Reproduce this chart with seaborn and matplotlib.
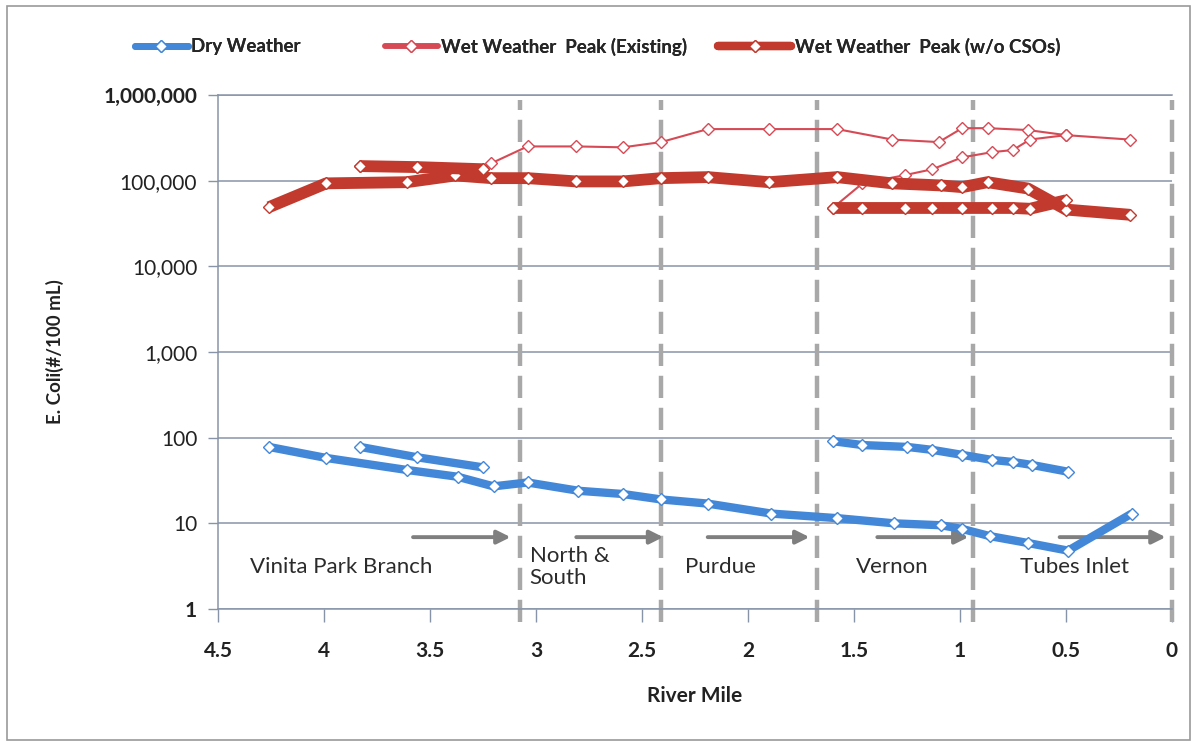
import numpy as np
import pandas as pd
import matplotlib
matplotlib.use("Agg")
import matplotlib.pyplot as plt
from matplotlib.patches import Rectangle
from matplotlib.lines import Line2D
import seaborn as sns

# ---------------- data ----------------
dry_main_x = [4.26, 3.99, 3.61, 3.37, 3.20, 3.04, 2.80, 2.59, 2.41, 2.19, 1.89, 1.58, 1.31, 1.09, 0.99, 0.86, 0.68, 0.49, 0.19]
dry_main_y = [78, 58, 42, 35, 27, 30, 24, 22, 19, 17, 13, 11.5, 10, 9.5, 8.6, 7.1, 5.9, 4.8, 13]
dry_vinita_x = [3.83, 3.56, 3.25]
dry_vinita_y = [78, 59, 45]
dry_vernon_x = [1.60, 1.46, 1.25, 1.13, 0.99, 0.85, 0.75, 0.66, 0.49]
dry_vernon_y = [91, 82, 78, 72, 63, 55, 52, 48, 40]

wet_exist_main_x = [3.83, 3.56, 3.25, 3.21, 3.04, 2.81, 2.59, 2.41, 2.19, 1.90, 1.58, 1.32, 1.10, 0.99, 0.87, 0.68, 0.50, 0.20]
wet_exist_main_y = [148000, 144000, 136000, 160000, 251000, 251000, 245000, 282000, 400000, 400000, 400000,
                    302000, 282000, 410000, 410000, 390000, 340000, 302000]
wet_exist_vernon_x = [1.60, 1.46, 1.26, 1.13, 0.99, 0.85, 0.75, 0.67, 0.50]
wet_exist_vernon_y = [48000, 93000, 116000, 136000, 187000, 215000, 228000, 302000, 340000]

wet_noCSO_main_x = [4.26, 3.99, 3.61, 3.38, 3.21, 3.04, 2.81, 2.59, 2.41, 2.19, 1.90, 1.58, 1.32, 1.09, 0.99, 0.87, 0.68, 0.50, 0.20]
wet_noCSO_main_y = [49000, 93000, 96000, 115000, 107000, 107000, 98000, 98000, 107000, 110000, 96000, 110000,
                    93000, 88000, 84000, 96000, 81000, 46000, 40000]
wet_noCSO_vinita_x = [3.83, 3.56, 3.25]
wet_noCSO_vinita_y = [148000, 144000, 136000]
wet_noCSO_vernon_x = [1.60, 1.46, 1.26, 1.13, 0.99, 0.85, 0.75, 0.67, 0.50]
wet_noCSO_vernon_y = [48000, 48000, 48000, 48000, 48000, 48000, 48000, 47000, 59000]

boundary_x = [3.075, 2.41, 1.675, 0.94, 0.0]
arrow_start = [3.58, 2.81, 2.19, 1.39, 0.53]
arrow_end = [3.12, 2.40, 1.71, 0.96, 0.03]
arrow_y = 6.9
reach_names = ["Vinita Park Branch", "North &\nSouth", "Purdue", "Vernon", "Tubes Inlet"]
reach_x = [3.92, 3.03, 2.13, 1.32, 0.46]
reach_ha = ["center", "left", "center", "center", "center"]
reach_y = 3.1

y_ticks = [1, 10, 100, 1000, 10000, 100000, 1000000]
y_labels = ["1", "10", "100", "1,000", "10,000", "100,000", "1,000,000"]
x_ticks = [4.5, 4, 3.5, 3, 2.5, 2, 1.5, 1, 0.5, 0]
x_labels = ["4.5", "4", "3.5", "3", "2.5", "2", "1.5", "1", "0.5", "0"]

series_names = ["Dry Weather", "Wet Weather  Peak (Existing)", "Wet Weather  Peak (w/o CSOs)"]

# ---------------- style ----------------
sns.set_theme(style="white")
plt.rcParams["font.family"] = ["Lato", "DejaVu Sans"]

BLUE = "#4388d8"
THIN_RED = "#d64a55"
THICK_RED = "#c23a2e"
GRID = "#8794a8"

fig = plt.figure(figsize=(11.97, 7.44), dpi=100)
ax = fig.add_axes([218 / 1197, 1 - 609 / 744, (1172 - 218) / 1197, (609 - 95) / 744])

def seg(x, y, color, lw, z):
    df = pd.DataFrame({"x": x, "y": y})
    sns.lineplot(data=df, x="x", y="y", ax=ax, color=color, linewidth=lw, sort=False,
                 estimator=None, marker="D", markersize=6.5, markerfacecolor="white",
                 markeredgecolor=color, markeredgewidth=1.0, legend=False, zorder=z,
                 solid_joinstyle="round", solid_capstyle="butt")

# boundaries
for bx in boundary_x:
    ax.axvline(bx, ymin=-0.025, ymax=0.99, color="#a8a8a8", lw=3.2,
               dashes=(5, 2.2), zorder=2, clip_on=False)

seg(dry_main_x, dry_main_y, BLUE, 6, 4)
seg(dry_vinita_x, dry_vinita_y, BLUE, 6, 4)
seg(dry_vernon_x, dry_vernon_y, BLUE, 6, 4)
seg(wet_exist_main_x, wet_exist_main_y, THIN_RED, 1.5, 4)
seg(wet_exist_vernon_x, wet_exist_vernon_y, THIN_RED, 1.5, 4)
seg(wet_noCSO_main_x, wet_noCSO_main_y, THICK_RED, 8.5, 5)
seg(wet_noCSO_vinita_x, wet_noCSO_vinita_y, THICK_RED, 8.5, 5)
seg(wet_noCSO_vernon_x, wet_noCSO_vernon_y, THICK_RED, 8.5, 5)

# arrows
for xs, xe in zip(arrow_start, arrow_end):
    ax.annotate("", xy=(xe, arrow_y), xytext=(xs, arrow_y),
                arrowprops=dict(arrowstyle="-|>", color="#7f7f7f", lw=2.8,
                                mutation_scale=20, shrinkA=0, shrinkB=0), zorder=3)

for name, rx, ha in zip(reach_names, reach_x, reach_ha):
    ax.text(rx, reach_y, name, ha=ha, va="center", fontsize=16, color="#2b2b2b",
            linespacing=1.15, zorder=6)

ax.set_yscale("log")
ax.set_ylim(1, 1e6)
ax.set_xlim(4.5, 0)
ax.set_yticks(y_ticks)
ax.set_yticklabels(y_labels, fontsize=15, color="#222222")
ax.yaxis.set_minor_locator(matplotlib.ticker.NullLocator())
ax.get_yticklabels()[-1].set_fontweight("bold")
ax.get_yticklabels()[0].set_fontweight("bold")
ax.set_xticks(x_ticks)
ax.set_xticklabels(x_labels, fontsize=15, fontweight="bold", color="#222222")

ax.grid(axis="y", color=GRID, lw=1.1)
ax.grid(axis="x", visible=False)
ax.spines["right"].set_visible(False)
for s in ["top", "left", "bottom"]:
    ax.spines[s].set_color(GRID)
    ax.spines[s].set_linewidth(1.1)
ax.tick_params(axis="y", direction="out", length=7, width=1, color=GRID, left=True, pad=8)
ax.tick_params(axis="x", direction="out", length=9, width=1, color=GRID, bottom=True, pad=14)

ax.set_xlabel("River Mile", fontsize=15, fontweight="bold", labelpad=18, color="#222222")
ax.set_ylabel("E. Coli(#/100 mL)", fontsize=13.5, fontweight="bold", labelpad=28, color="#222222")

# legend: one entry per box, placed like the reference
handles = [
    Line2D([], [], color=BLUE, lw=5, marker="D", markersize=6.5, markerfacecolor="white", markeredgecolor=BLUE),
    Line2D([], [], color=THIN_RED, lw=4, marker="D", markersize=6.5, markerfacecolor="white", markeredgecolor=THIN_RED),
    Line2D([], [], color=THICK_RED, lw=6, marker="D", markersize=6.5, markerfacecolor="white", markeredgecolor=THICK_RED),
]
legend_left = [135 / 1197, 385 / 1197, 718 / 1197]
legend_hlen = [2.8, 2.8, 3.9]
for h, name, lx, hl in zip(handles, series_names, legend_left, legend_hlen):
    lg = fig.legend([h], [name], loc="center left", bbox_to_anchor=(lx, 0.937),
                    frameon=False, handlelength=hl, handletextpad=0.2, borderpad=0,
                    borderaxespad=0, prop={"size": 13.5, "weight": "bold"})
    fig.add_artist(lg)

fig.patches.append(Rectangle((0.006, 0.006), 0.988, 0.986, transform=fig.transFigure,
                             fill=False, edgecolor="#9a9a9a", lw=1.2))

fig.savefig("out.png", dpi=100)
